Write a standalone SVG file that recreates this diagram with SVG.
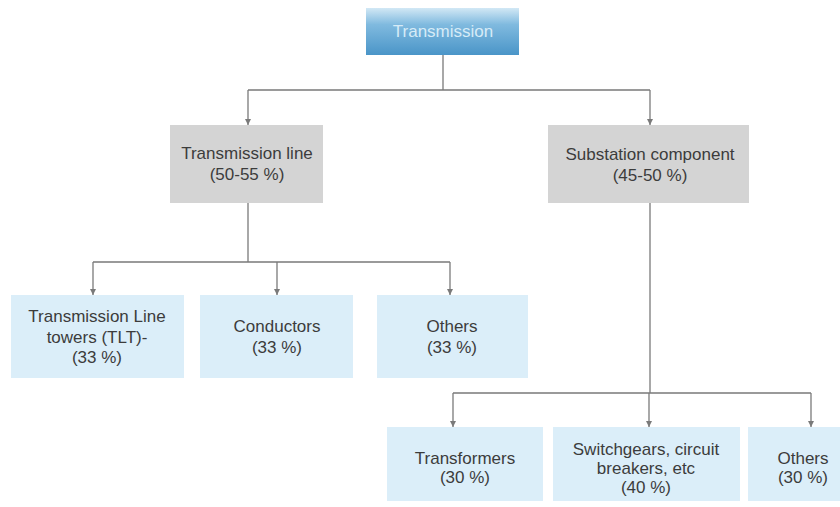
<svg xmlns="http://www.w3.org/2000/svg" width="840" height="507" viewBox="0 0 840 507">
<style>
.t{font-family:"Liberation Sans",Arial,sans-serif;font-size:17px;fill:#3c3c3c;text-anchor:middle}
.g{fill:#d4d4d4}
.b{fill:#dbeef9}
.c{stroke:#7a7a7a;stroke-width:1.3;fill:none}
</style>
<defs>
<linearGradient id="hg" x1="0" y1="0" x2="0" y2="1">
<stop offset="0" stop-color="#d2e8f5"/>
<stop offset="0.35" stop-color="#80badf"/>
<stop offset="1" stop-color="#4a95c8"/>
</linearGradient>
<marker id="a" markerWidth="7" markerHeight="7" refX="6" refY="3.5" orient="auto" markerUnits="userSpaceOnUse">
<path d="M0,0.5 L6,3.5 L0,6.5 Z" fill="#7a7a7a"/>
</marker>
</defs>
<rect width="840" height="507" fill="#ffffff"/>
<g id="connectors">
<path class="c" d="M443,55 V90 M248,90 H650"/>
<path class="c" d="M248,90 V125" marker-end="url(#a)"/>
<path class="c" d="M650,90 V125" marker-end="url(#a)"/>
<path class="c" d="M248,203 V262 M93,262 H450"/>
<path class="c" d="M93,262 V295" marker-end="url(#a)"/>
<path class="c" d="M277,262 V295" marker-end="url(#a)"/>
<path class="c" d="M450,262 V295" marker-end="url(#a)"/>
<path class="c" d="M650,203 V393 M453,393 H811"/>
<path class="c" d="M453,393 V427" marker-end="url(#a)"/>
<path class="c" d="M649,393 V427" marker-end="url(#a)"/>
<path class="c" d="M811,393 V427" marker-end="url(#a)"/>
</g>
<g id="transmission">
<rect x="366" y="8" width="153" height="47" fill="url(#hg)"/>
<text class="t" x="443" y="37" style="fill:#d6ebf7">Transmission</text>
</g>
<g id="transmission-line">
<rect class="g" x="170" y="125" width="153" height="78"/>
<text class="t" x="247" y="159">Transmission line</text>
<text class="t" x="247" y="180">(50-55 %)</text>
</g>
<g id="substation">
<rect class="g" x="548" y="125" width="201" height="78"/>
<text class="t" x="650" y="160">Substation component</text>
<text class="t" x="650" y="181">(45-50 %)</text>
</g>
<g id="tlt">
<rect class="b" x="11" y="295" width="173" height="83"/>
<text class="t" x="97" y="322">Transmission Line</text>
<text class="t" x="97" y="343">towers (TLT)-</text>
<text class="t" x="97" y="363">(33 %)</text>
</g>
<g id="conductors">
<rect class="b" x="200" y="295" width="153" height="83"/>
<text class="t" x="277" y="332">Conductors</text>
<text class="t" x="277" y="353">(33 %)</text>
</g>
<g id="others-tl">
<rect class="b" x="377" y="295" width="151" height="83"/>
<text class="t" x="452" y="332">Others</text>
<text class="t" x="452" y="353">(33 %)</text>
</g>
<g id="transformers">
<rect class="b" x="387" y="427" width="156" height="74"/>
<text class="t" x="465" y="464">Transformers</text>
<text class="t" x="465" y="483">(30 %)</text>
</g>
<g id="switchgears">
<rect class="b" x="553" y="427" width="187" height="74"/>
<text class="t" x="646" y="455">Switchgears, circuit</text>
<text class="t" x="646" y="474">breakers, etc</text>
<text class="t" x="646" y="493">(40 %)</text>
</g>
<g id="others-sub">
<rect class="b" x="748" y="427" width="92" height="74"/>
<text class="t" x="803" y="464">Others</text>
<text class="t" x="803" y="483">(30 %)</text>
</g>
</svg>
